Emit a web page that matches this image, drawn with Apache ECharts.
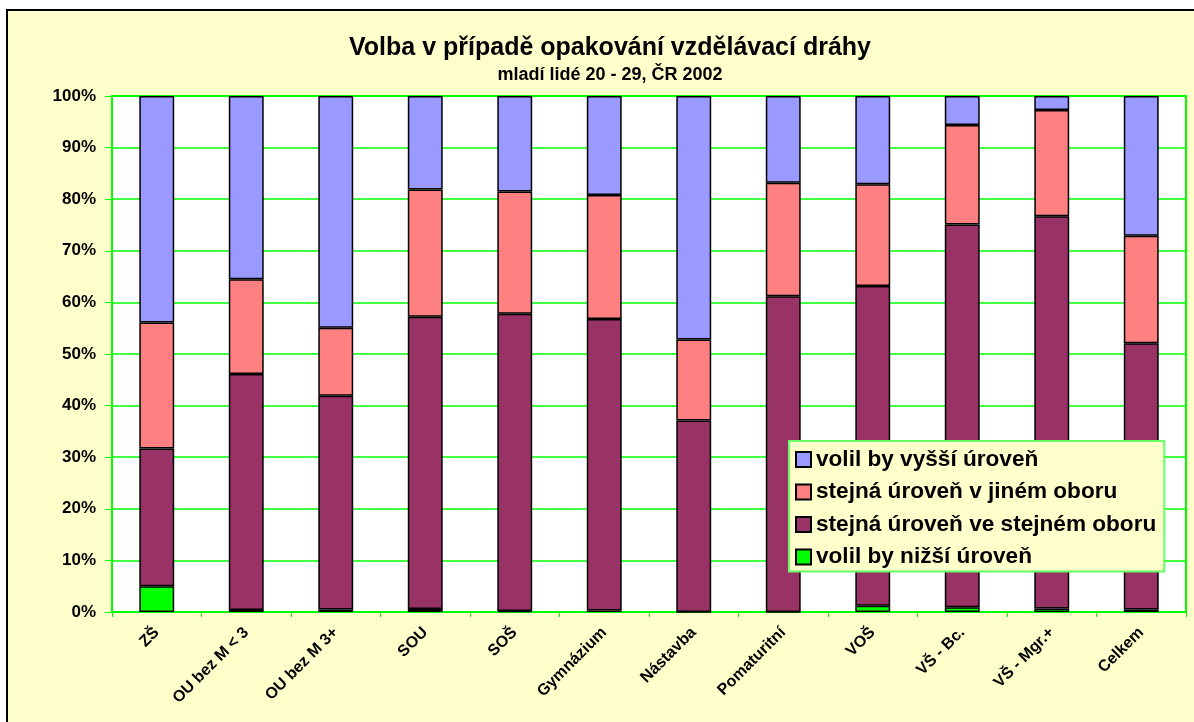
<!DOCTYPE html>
<html>
<head>
<meta charset="utf-8">
<script src="https://cdn.jsdelivr.net/npm/echarts@6/dist/echarts.min.js"></script>
<style>
  html, body { margin: 0; padding: 0; background: #fff; }
  #chart { width: 1194px; height: 722px; }
</style>
</head>
<body>
<div id="chart"></div>
<script>
// kategorie (vzdělání)
const categories = ["ZŠ", "OU bez M < 3", "OU bez M 3+", "SOU", "SOŠ", "Gymnázium",
  "Nástavba", "Pomaturitní", "VOŠ", "VŠ - Bc.", "VŠ - Mgr.+", "Celkem"];
// podíly v %
const nizsi = [5.0, 0.4, 0.5, 0.6, 0.2, 0.3, 0, 0, 1.2, 0.9, 0.7, 0.5];
const stejnaStejny = [26.7, 45.7, 41.4, 56.6, 57.6, 56.5, 37.1, 61.2, 62.0, 74.2, 76.0, 51.6];
const stejnaJiny = [24.4, 18.4, 13.2, 24.7, 23.7, 24.0, 15.7, 22.0, 19.7, 19.3, 20.6, 20.8];
const vyssi = [43.9, 35.5, 44.9, 18.1, 18.5, 19.2, 47.2, 16.8, 17.1, 5.6, 2.7, 27.1];
const yTicks = [0, 10, 20, 30, 40, 50, 60, 70, 80, 90, 100];

const chart = echarts.init(document.getElementById("chart"));
const font = "Arial, 'Liberation Sans', sans-serif";
const green = "#00FF00";

const bar = (name, data, color) => ({
  name: name,
  type: "bar",
  stack: "total",
  data: data,
  barWidth: "39%",
  itemStyle: { color: color, borderColor: "#000", borderWidth: 1.5 },
});

const option = {
  backgroundColor: "#fff",
  animation: false,
  textStyle: { fontFamily: font },
  graphic: [
    {
      type: "rect",
      z: -10,
      shape: { x: 7, y: 10, width: 1200, height: 720 },
      style: { fill: "#FFFFCC", stroke: "#000", lineWidth: 2 },
    },
  ],
  title: {
    text: "Volba v případě opakování vzdělávací dráhy",
    subtext: "mladí lidé 20 - 29, ČR 2002",
    left: 605,
    textAlign: "center",
    top: 31,
    itemGap: 5,
    textStyle: { fontFamily: font, fontSize: 25, fontWeight: "bold", color: "#000" },
    subtextStyle: { fontFamily: font, fontSize: 18, fontWeight: "bold", color: "#000" },
  },
  legend: {
    orient: "vertical",
    left: 789,
    top: 441,
    data: ["volil by vyšší úroveň", "stejná úroveň v jiném oboru",
      "stejná úroveň ve stejném oboru", "volil by nižší úroveň"],
    backgroundColor: "#FFFFCC",
    borderColor: "#66FF66",
    borderWidth: 2,
    borderRadius: 0,
    padding: [7, 8, 3, 6],
    itemWidth: 15,
    itemHeight: 15,
    itemGap: 9.5,
    icon: "rect",
    textStyle: { fontFamily: font, fontSize: 22.6, fontWeight: "bold", color: "#000" },
  },
  grid: { left: 112, right: 8, top: 96, bottom: 110, show: true,
    backgroundColor: "#fff", borderColor: green, borderWidth: 2 },
  xAxis: {
    type: "category",
    data: categories,
    axisLine: { lineStyle: { color: green, width: 2 } },
    axisTick: { show: true, length: 5, lineStyle: { color: green } },
    axisLabel: { rotate: 45, fontFamily: font, fontSize: 16, fontWeight: "bold",
      color: "#000", margin: 18, interval: 0 },
  },
  yAxis: {
    type: "value",
    min: yTicks[0],
    max: yTicks[yTicks.length - 1],
    interval: 10,
    axisLine: { show: true, lineStyle: { color: green, width: 2 } },
    axisTick: { show: true, length: 7, lineStyle: { color: green } },
    splitLine: { lineStyle: { color: green, width: 1.5 } },
    axisLabel: { formatter: "{value}%", fontFamily: font, fontSize: 17,
      fontWeight: "bold", color: "#000", margin: 16 },
  },
  series: [
    bar("volil by nižší úroveň", nizsi, "#00FF00"),
    bar("stejná úroveň ve stejném oboru", stejnaStejny, "#993366"),
    bar("stejná úroveň v jiném oboru", stejnaJiny, "#FF8080"),
    bar("volil by vyšší úroveň", vyssi, "#9999FF"),
  ],
};
option && chart.setOption(option);
</script>
</body>
</html>
